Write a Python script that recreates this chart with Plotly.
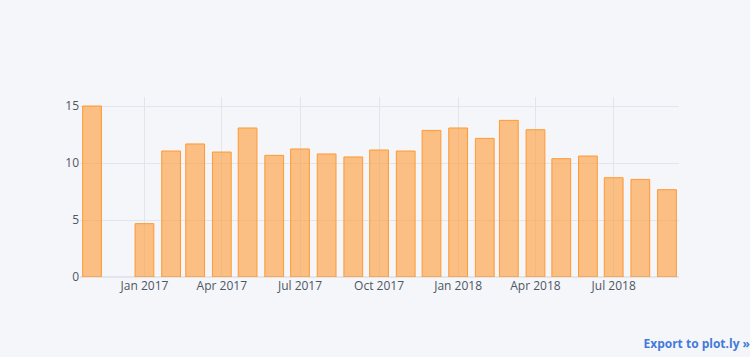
import plotly.graph_objects as go

months = ["2016-11-01", "2017-01-01", "2017-02-01", "2017-03-01", "2017-04-01",
          "2017-05-01", "2017-06-01", "2017-07-01", "2017-08-01", "2017-09-01",
          "2017-10-01", "2017-11-01", "2017-12-01", "2018-01-01", "2018-02-01",
          "2018-03-01", "2018-04-01", "2018-05-01", "2018-06-01", "2018-07-01",
          "2018-08-01", "2018-09-01"]
values = [15.0, 4.68, 11.05, 11.67, 10.96, 13.07, 10.67, 11.23, 10.79, 10.53,
          11.14, 11.05, 12.86, 13.07, 12.16, 13.74, 12.92, 10.38, 10.61, 8.71,
          8.56, 7.66]

fig = go.Figure(go.Bar(
    x=months, y=values,
    marker=dict(color="rgba(255,153,51,0.6)",
                line=dict(color="rgba(255,153,51,1.0)", width=1)),
))

fig.update_layout(
    width=757, height=357,
    margin=dict(l=80, r=78, t=97, b=80),
    paper_bgcolor="#F5F6F9", plot_bgcolor="#F5F6F9",
    font=dict(family="Open Sans, verdana, arial, sans-serif", color="#4D5663", size=12),
    bargap=0.22,
    showlegend=False,
)
fig.update_xaxes(gridcolor="#E1E5ED", showgrid=True, zerolinecolor="#E1E5ED",
                 tickfont=dict(color="#4D5663"), dtick="M3", tickformat="%b %Y",
                 tick0="2017-01-01")
fig.update_yaxes(gridcolor="#E1E5ED", showgrid=True, zerolinecolor="#E1E5ED",
                 tickfont=dict(color="#4D5663"))

fig.write_html(
    "out.html",
    config={"showLink": True, "linkText": "Export to plot.ly",
            "plotlyServerURL": "https://plot.ly", "displayModeBar": False},
    post_script="document.body.style.margin='0';document.body.style.overflow='hidden';"
                "document.body.style.background='#F5F6F9';",
)
